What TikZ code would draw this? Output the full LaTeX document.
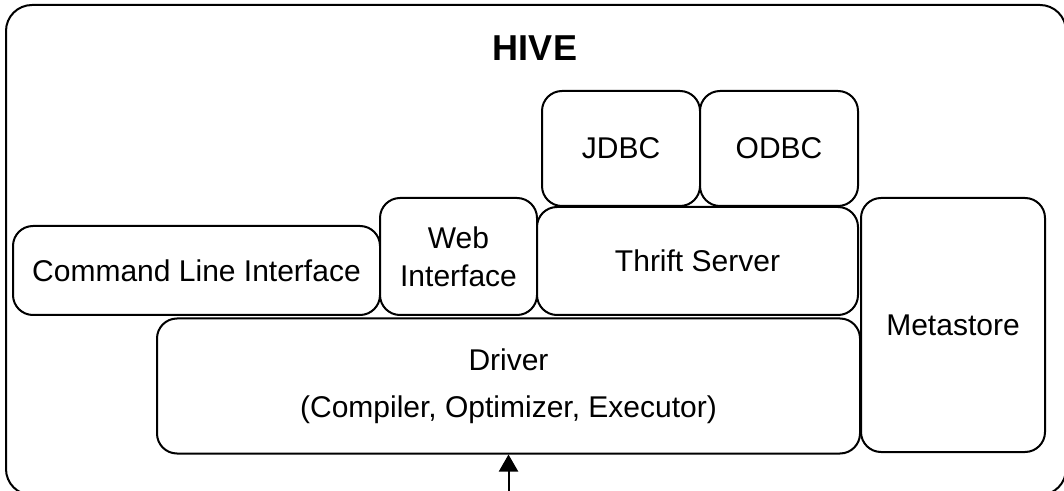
\documentclass[tikz,border=0pt]{standalone}
\usepackage{fontspec}
\setmainfont{Liberation Sans}
\usetikzlibrary{arrows.meta}
\begin{document}
\begin{tikzpicture}[x=0.5pt,y=-0.5pt,
  box/.style={draw=black, line width=1pt, rounded corners=10pt, fill=white,
    inner sep=0pt, align=center, font=\fontsize{15}{19}\selectfont},
  outerbox/.style={draw=black, line width=1pt, rounded corners=13pt},
  title/.style={font=\fontsize{18}{22}\selectfont\bfseries},
  arrowline/.style={line width=1pt, -{Triangle[width=9.5pt,length=8.5pt]}}]
\clip (0,0) rectangle (1064,491);
\useasboundingbox (0,0) rectangle (1064,491);
\draw[outerbox] (6,5) rectangle (1066,495);
\node[title] (hive) at (535,48) {HIVE};
\node[box, minimum width=183.5pt, minimum height=44.5pt] (cli) at (196.5,270.5) {Command Line Interface};
\node[box, minimum width=78.5pt, minimum height=58.5pt] (web) at (458.5,256.5) {Web\\Interface};
\node[box, minimum width=160.5pt, minimum height=54pt] (thrift) at (697.5,261) {Thrift Server};
\node[box, minimum width=79pt, minimum height=57.5pt] (jdbc) at (621,148.5) {JDBC};
\node[box, minimum width=79pt, minimum height=57.5pt] (odbc) at (779,148.5) {ODBC};
\node[box, minimum width=351.5pt, minimum height=67.5pt] (driver) at (508.5,386) {Driver\\[4.5pt](Compiler, Optimizer, Executor)};
\node[box, minimum width=92pt, minimum height=127pt] (meta) at (953,325) {Metastore};
\coordinate (arrowtail) at (508.5,495);
\draw[arrowline] (arrowtail) -- (driver.south);
\end{tikzpicture}
\end{document}
